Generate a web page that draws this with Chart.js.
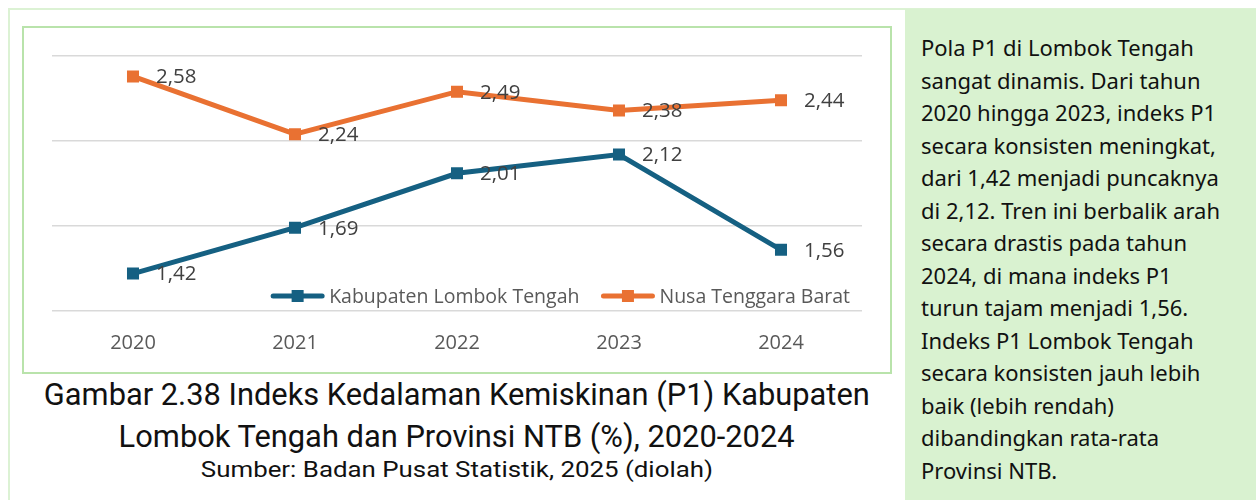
<!DOCTYPE html>
<html lang="id">
  <head>
    <meta charset="UTF-8" />
    <title>Indeks Kedalaman Kemiskinan (P1)</title>
    <script src="https://cdn.jsdelivr.net/npm/chart.js"></script>
    <style>
      html, body { margin: 0; padding: 0; background: #fff; }
      body { width: 1256px; height: 500px; position: relative; overflow: hidden; font-family: "Open Sans", sans-serif; }
      #frame { position: absolute; left: 8px; top: 8px; width: 1300px; height: 520px;
               border-left: 2px solid #dcf2d4; border-top: 2px solid #dcf2d4; }
      #box { position: absolute; left: 22px; top: 26px; width: 866px; height: 344px;
             border: 2px solid #b9e3ab; background: #fff; }
      #box canvas { position: absolute; left: 0; top: 0; }
      .cap { position: absolute; left: 0; width: 914px; text-align: center; color: #111;
             font-family: "Liberation Sans Narrow", "Roboto", sans-serif; white-space: nowrap; }
      .cap span { display: inline-block; transform-origin: center center; }
      #cap1 { top: 375px; font-size: 32px; line-height: 38px; }
      #cap2 { top: 417px; font-size: 32px; line-height: 38px; }
      #cap3 { top: 456px; font-size: 22px; line-height: 27px; }
      #panel { position: absolute; left: 905px; top: 9px; width: 351px; height: 491px; background: #d9f2d0; }
      #panel p { margin: 0; position: absolute; left: 16px; top: 22px; font-family: "Noto Sans", sans-serif;
                 font-size: 22px; line-height: 32.5px; color: #111; white-space: nowrap; }
    </style>
  </head>
  <body>
    <div id="frame"></div>
    <div id="box">
      <canvas id="p1Chart" width="866" height="344"></canvas>
    </div>
    <div class="cap" id="cap1"><span data-w="826">Gambar 2.38 Indeks Kedalaman Kemiskinan (P1) Kabupaten</span></div>
    <div class="cap" id="cap2"><span data-w="676">Lombok Tengah dan Provinsi NTB (%), 2020-2024</span></div>
    <div class="cap" id="cap3"><span data-w="512">Sumber: Badan Pusat Statistik, 2025 (diolah)</span></div>
    <div id="panel">
      <p>
        Pola P1 di Lombok Tengah<br />
        sangat dinamis. Dari tahun<br />
        2020 hingga 2023, indeks P1<br />
        secara konsisten meningkat,<br />
        dari 1,42 menjadi puncaknya<br />
        di 2,12. Tren ini berbalik arah<br />
        secara drastis pada tahun<br />
        2024, di mana indeks P1<br />
        turun tajam menjadi 1,56.<br />
        Indeks P1 Lombok Tengah<br />
        secara konsisten jauh lebih<br />
        baik (lebih rendah)<br />
        dibandingkan rata-rata<br />
        Provinsi NTB.
      </p>
    </div>

    <script>
      // data
      const years = ["2020", "2021", "2022", "2023", "2024"];
      const lombokTengah = [1.42, 1.69, 2.01, 2.12, 1.56];
      const ntb = [2.58, 2.24, 2.49, 2.38, 2.44];
      const seriesNames = ["Kabupaten Lombok Tengah", "Nusa Tenggara Barat"];
      const yMin = 1.2;
      const yMax = 2.7;
      const yStep = 0.5;

      const blue = "#156082";
      const orange = "#E97132";
      const chartFont = '"Open Sans", sans-serif';

      function fmt(v) {
        return v.toFixed(2).replace(".", ",");
      }

      // value labels to the right of each point
      const valueLabels = {
        id: "valueLabels",
        afterDatasetsDraw(chart) {
          const ctx = chart.ctx;
          ctx.save();
          ctx.font = "20.5px " + chartFont;
          ctx.fillStyle = "#404040";
          ctx.textAlign = "left";
          ctx.textBaseline = "middle";
          chart.data.datasets.forEach((ds, i) => {
            chart.getDatasetMeta(i).data.forEach((pt, j) => {
              ctx.fillText(fmt(ds.data[j]), pt.x + 23, pt.y + 1);
            });
          });
          ctx.restore();
        },
      };

      // legend sitting inside the plot, bottom right
      const insideLegend = {
        id: "insideLegend",
        afterDatasetsDraw(chart) {
          const { ctx, chartArea } = chart;
          ctx.save();
          ctx.font = "19.5px " + chartFont;
          const y = chartArea.bottom - 15;
          const lineW = 55, gapText = 4, gapItem = 21;
          const items = chart.data.datasets.map((ds) => ({ ds: ds, w: ctx.measureText(ds.label).width }));
          let total = gapItem * (items.length - 1);
          items.forEach((it) => (total += lineW + gapText + it.w));
          let x = chartArea.right - 12 - total;
          items.forEach((it) => {
            const c = it.ds.borderColor;
            ctx.strokeStyle = c;
            ctx.lineWidth = 5;
            ctx.lineCap = "round";
            ctx.beginPath();
            ctx.moveTo(x + 3, y);
            ctx.lineTo(x + lineW - 3, y);
            ctx.stroke();
            ctx.fillStyle = c;
            ctx.fillRect(x + lineW / 2 - 6, y - 6, 12, 12);
            ctx.fillStyle = "#595959";
            ctx.textAlign = "left";
            ctx.textBaseline = "middle";
            ctx.fillText(it.ds.label, x + lineW + gapText, y + 1);
            x += lineW + gapText + it.w + gapItem;
          });
          ctx.restore();
        },
      };

      new Chart(document.getElementById("p1Chart").getContext("2d"), {
        type: "line",
        data: {
          labels: years,
          datasets: [
            {
              label: seriesNames[0],
              data: lombokTengah,
              borderColor: blue,
              backgroundColor: blue,
              borderWidth: 5,
              pointStyle: "rect",
              pointRadius: 8.5,
              pointBorderWidth: 0,
              tension: 0,
            },
            {
              label: seriesNames[1],
              data: ntb,
              borderColor: orange,
              backgroundColor: orange,
              borderWidth: 5,
              pointStyle: "rect",
              pointRadius: 8.5,
              pointBorderWidth: 0,
              tension: 0,
            },
          ],
        },
        options: {
          responsive: false,
          animation: false,
          layout: { padding: { left: 28, right: 28, top: 28, bottom: 21 } },
          plugins: { legend: { display: false }, tooltip: { enabled: false } },
          scales: {
            x: {
              offset: true,
              grid: { display: false, drawTicks: false },
              border: { display: false },
              ticks: { color: "#595959", font: { family: chartFont, size: 20 }, padding: 20 },
              afterFit: (scale) => {
                scale.height = 40;
              },
            },
            y: {
              min: yMin,
              max: yMax,
              ticks: { display: false, stepSize: yStep },
              grid: { color: "#d9d9d9", lineWidth: 1.5, drawTicks: false },
              border: { display: false },
            },
          },
        },
        plugins: [valueLabels, insideLegend],
      });

      // squeeze caption lines to the narrow width of the original font
      document.fonts.ready.then(() => {
        document.querySelectorAll(".cap span").forEach((s) => {
          const target = parseFloat(s.dataset.w);
          const w = s.getBoundingClientRect().width;
          if (w > 0) s.style.transform = "scaleX(" + (target / w).toFixed(3) + ")";
        });
      });
    </script>
  </body>
</html>
